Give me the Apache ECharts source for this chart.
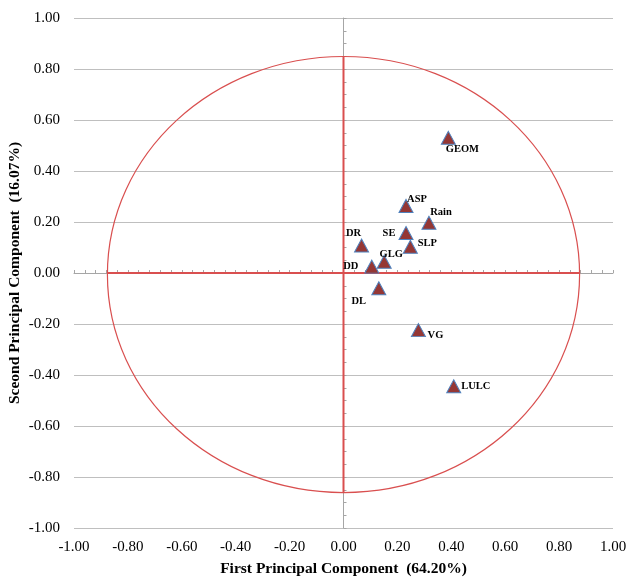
<!DOCTYPE html>
<html>
<head>
<meta charset="utf-8">
<script src="https://cdn.jsdelivr.net/npm/echarts@6/dist/echarts.min.js"></script>
<style>
  html, body { margin: 0; padding: 0; background: #fff; }
  #chart { width: 627px; height: 579px; }
</style>
</head>
<body>
<div id="chart"></div>
<script>
// loadings on the first two principal components
const names = ['GEOM', 'ASP', 'Rain', 'SE', 'SLP', 'DR', 'GLG', 'DD', 'DL', 'VG', 'LULC'];
const pc1 = [0.389, 0.232, 0.317, 0.232, 0.248, 0.067, 0.151, 0.105, 0.131, 0.278, 0.409];
const pc2 = [0.530, 0.263, 0.197, 0.157, 0.103, 0.108, 0.044, 0.025, -0.060, -0.224, -0.444];

// correlation circle: centre x, centre y, radius x, radius y
const circle = [0, -0.006, 0.876, 0.855];
const vLine = [[0, -0.86], [0, 0.85]];
const hLine = [[-0.876, 0], [0.876, 0]];

// label offsets (px) from the triangle centre
const labelOffset = {
  GEOM: [14, 11], ASP: [11, -7], Rain: [12, -10], SE: [-17, 0], SLP: [17, -3],
  DR: [-8, -12], GLG: [7, -7], DD: [-21, 0], DL: [-20, 13], VG: [17, 5], LULC: [22, 0]
};

const serif = '"Liberation Serif", "Times New Roman", serif';
const gridGray = '#BFBFBF';
const axisGray = '#A6A6A6';
const red = '#D94F4F';
const fmt = (v) => v.toFixed(2);

const chart = echarts.init(document.getElementById('chart'));

chart.setOption({
  animation: false,
  backgroundColor: '#fff',
  grid: { left: 74, right: 14, top: 18, bottom: 51, containLabel: false, outerBoundsMode: 'none' },
  xAxis: [
    {
      type: 'value', min: -1, max: 1, interval: 0.2,
      position: 'bottom',
      axisLine: { show: false, onZero: false },
      axisTick: { show: false },
      splitLine: { show: false },
      axisLabel: { formatter: fmt, margin: 12, color: '#000', fontFamily: serif, fontSize: 15 },
      name: 'First Principal Component  (64.20%)',
      nameLocation: 'middle',
      nameGap: 33,
      nameMoveOverlap: false,
      nameTextStyle: { color: '#000', fontFamily: serif, fontSize: 15.5, fontWeight: 'bold' }
    },
    {
      type: 'value', min: -1, max: 1, interval: 0.2,
      axisLine: { show: true, onZero: true, onZeroAxisIndex: 0, lineStyle: { color: axisGray, width: 1 } },
      axisTick: { show: true, length: 3, lineStyle: { color: axisGray } },
      minorTick: { show: true, splitNumber: 5, length: 3, lineStyle: { color: axisGray } },
      axisLabel: { show: false },
      splitLine: { show: false }
    }
  ],
  yAxis: [
    {
      type: 'value', min: -1, max: 1, interval: 0.2,
      position: 'left',
      axisLine: { show: false, onZero: false },
      axisTick: { show: false },
      splitLine: { show: true, lineStyle: { color: gridGray, width: 1 } },
      axisLabel: { formatter: fmt, margin: 14, color: '#000', fontFamily: serif, fontSize: 15 },
      name: 'Sceond Principal Component  (16.07%)',
      nameLocation: 'middle',
      nameGap: 51,
      nameMoveOverlap: false,
      nameTextStyle: { color: '#000', fontFamily: serif, fontSize: 15.5, fontWeight: 'bold' }
    },
    {
      type: 'value', min: -1, max: 1, interval: 0.2,
      axisLine: { show: true, onZero: true, onZeroAxisIndex: 0, lineStyle: { color: axisGray, width: 1 } },
      axisTick: { show: true, length: 3, lineStyle: { color: axisGray } },
      minorTick: { show: true, splitNumber: 4, length: 3, lineStyle: { color: axisGray } },
      axisLabel: { show: false },
      splitLine: { show: false }
    }
  ],
  series: [
    {
      type: 'custom',
      xAxisIndex: 0, yAxisIndex: 0,
      clip: false,
      silent: true,
      data: [circle],
      renderItem: (params, api) => {
        const c = api.coord([api.value(0), api.value(1)]);
        const s = api.size([api.value(2), api.value(3)]);
        return {
          type: 'ellipse',
          shape: { cx: c[0], cy: c[1], rx: s[0], ry: s[1] },
          style: { fill: 'none', stroke: red, lineWidth: 1.2 }
        };
      }
    },
    {
      type: 'line', xAxisIndex: 0, yAxisIndex: 0,
      data: vLine, symbol: 'none', silent: true,
      lineStyle: { color: red, width: 2 }
    },
    {
      type: 'line', xAxisIndex: 0, yAxisIndex: 0,
      data: hLine, symbol: 'none', silent: true,
      lineStyle: { color: red, width: 2 }
    },
    {
      type: 'scatter', xAxisIndex: 0, yAxisIndex: 0,
      symbol: 'triangle',
      symbolSize: [14, 13],
      itemStyle: { color: '#953735', borderColor: '#4F81BD', borderWidth: 1, opacity: 1 },
      data: names.map((n, i) => ({
        name: n,
        value: [pc1[i], pc2[i]],
        label: { offset: labelOffset[n] }
      })),
      label: {
        show: true,
        position: 'inside',
        formatter: (p) => p.name,
        color: '#000',
        fontFamily: serif,
        fontSize: 10.5,
        fontWeight: 'bold'
      },
      z: 5
    }
  ]
});
</script>
</body>
</html>
